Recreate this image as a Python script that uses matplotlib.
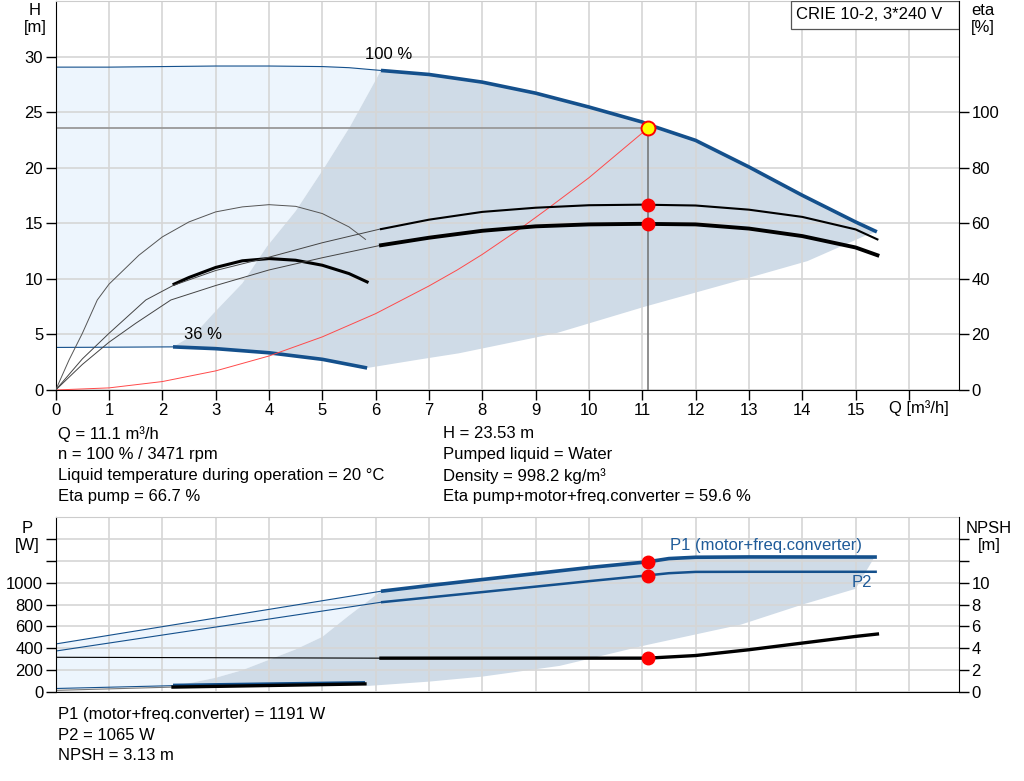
import matplotlib.pyplot as plt
from matplotlib.patches import Rectangle

plt.rcParams['font.family'] = ['Liberation Sans', 'DejaVu Sans']

# curvas de altura H [m] (100 % e 36 % de rotação)
q_h100_fino = [0, 1, 2, 3, 4, 5, 5.5, 6.1]
h_h100_fino = [29.05, 29.05, 29.1, 29.15, 29.15, 29.1, 29.0, 28.75]
q_h100 = [6.1, 7, 8, 9, 10, 11, 11.1, 12, 13, 14, 15, 15.4]
h_h100 = [28.75, 28.39, 27.7, 26.71, 25.46, 24.11, 23.9, 22.46, 20.07, 17.52, 15.12, 14.23]
q_h36_fino = [0, 1, 2.2]
h_h36_fino = [3.83, 3.85, 3.88]
q_h36 = [2.2, 3, 4, 5, 5.84]
h_h36 = [3.88, 3.72, 3.35, 2.76, 1.98]

# limites da área de operação (H)
q_lim_esq = [2.2, 2.6, 2.96, 3.5, 3.96, 4.5, 5.05, 5.52, 6.1]
h_lim_esq = [3.88, 5.0, 6.9, 9.6, 12.9, 16.1, 20.1, 23.7, 28.75]
q_lim_inf = [5.84, 6.84, 7.56, 9.38, 11.05, 13.0, 14.1, 15.19, 15.4]
h_lim_inf = [1.98, 2.76, 3.3, 5.1, 7.5, 10.1, 11.6, 13.9, 14.23]

# curva do sistema
q_sist = [0, 1, 2, 3, 4, 5, 6, 7, 7.53, 8, 8.75, 9.25, 10, 11.1]
h_sist = [0, 0.19, 0.76, 1.72, 3.06, 4.78, 6.87, 9.36, 10.8, 12.2, 14.65, 16.4, 19.1, 23.53]

# rendimentos [%]
q_eta_bomba_fino = [0, 0.5, 1, 1.69, 2.2, 3, 4, 5, 6.1]
eta_bomba_fino = [0, 11.2, 20.4, 32.4, 37.6, 43.0, 47.8, 53.0, 58.0]
q_eta_total_fino = [0, 0.5, 1, 1.5, 2.16, 3, 4, 5, 6.1]
eta_total_fino = [0, 9.2, 17.2, 24.0, 32.4, 37.6, 43.2, 47.6, 52.1]
q_eta = [6.1, 7, 8, 9, 10, 11, 12, 13, 14, 15, 15.41]
eta_bomba = [57.9, 61.3, 64.1, 65.6, 66.5, 66.7, 66.4, 64.9, 62.3, 57.8, 54.2]
eta_total = [52.1, 54.8, 57.3, 58.9, 59.6, 59.8, 59.6, 58.1, 55.4, 51.3, 48.5]
q_eta36 = [0, 0.25, 0.5, 0.78, 1.0, 1.56, 2.0, 2.5, 3.0, 3.5, 4.0, 4.5, 5.0, 5.5, 5.81]
eta_bomba36 = [0, 10.8, 20.4, 32.4, 38.1, 48.5, 55.1, 60.5, 64.1, 65.9, 66.7, 66.1, 63.5, 58.7, 54.2]
q_eta36_tot = [2.22, 2.5, 3.0, 3.5, 4.0, 4.5, 5.0, 5.5, 5.84]
eta_total36 = [38.1, 40.5, 44.1, 46.5, 47.3, 46.7, 44.9, 41.9, 38.9]

# potências [W]
q_p_fino = [0, 6.1]
p1_fino = [440, 923]
p2_fino = [375, 822]
q_p1 = [6.1, 7, 8, 9, 10, 11.1, 11.5, 12, 13, 15.4]
p1 = [923, 975, 1030, 1085, 1140, 1192, 1222, 1234, 1237, 1236]
q_p2 = [6.1, 7, 8, 9, 10, 11.1, 11.5, 12, 13, 15.4]
p2 = [822, 866, 915, 965, 1015, 1068, 1088, 1100, 1101, 1101]
q_p36_fino = [0, 2.2]
p1_36_fino = [32, 58]
p2_36_fino = [15, 45]
q_p36 = [2.2, 5.8]
p1_36 = [60, 84]
p2_36 = [45, 74]
q_plim_esq = [2.2, 2.6, 3, 3.5, 4, 4.5, 5, 5.5, 6.1]
p_lim_esq = [55, 90, 130, 200, 295, 390, 505, 700, 923]
q_plim_inf = [5.84, 7, 8, 9.45, 11.1, 12.85, 14, 15, 15.35]
p_lim_inf = [55, 95, 141, 239, 432, 617, 800, 945, 1230]

# NPSH [m]
q_npsh_fino = [0, 6.1]
npsh_fino = [3.18, 3.1]
q_npsh = [6.1, 11.1, 12, 13, 14, 15, 15.41]
npsh = [3.1, 3.1, 3.34, 3.87, 4.48, 5.09, 5.31]

# ponto de operação
q_op = 11.1
h_op = 23.53
eta_bomba_op = 66.7
eta_total_op = 59.6
p1_op = 1191
p2_op = 1065
npsh_op = 3.13

azul = '#14508c'
claro = '#edf5fd'
escuro = '#cfdbe7'
grade = '#d6d6d6'
fs = 12

fig = plt.figure(figsize=(10.24, 7.81), dpi=100)
L, W = 55.7 / 1024, (959 - 55.7) / 1024
ax1 = fig.add_axes([L, (781 - 390) / 781, W, 389 / 781])
ax2 = fig.add_axes([L, (781 - 692) / 781, W, (692 - 517.3) / 781])

# ---------------- grafico de cima (H / eta)
ax1.fill(q_h100_fino + q_lim_esq[::-1] + q_h36_fino[::-1],
         h_h100_fino + h_lim_esq[::-1] + h_h36_fino[::-1],
         color=claro, lw=0, zorder=0.2)
ax1.fill(q_h100 + q_lim_inf[::-1] + q_h36[::-1] + q_lim_esq,
         h_h100 + h_lim_inf[::-1] + h_h36[::-1] + h_lim_esq,
         color=escuro, lw=0, zorder=0.3)

ax1.plot(q_h100_fino, h_h100_fino, color=azul, lw=0.8)
ax1.plot(q_h100, h_h100, color=azul, lw=2.6, solid_capstyle='butt')
ax1.plot(q_h36_fino, h_h36_fino, color=azul, lw=0.8)
ax1.plot(q_h36, h_h36, color=azul, lw=2.6, solid_capstyle='butt')
ax1.plot(q_sist, h_sist, color='#ff4a4a', lw=0.7, zorder=3)

ax1.plot([0, q_op], [h_op, h_op], color='#999999', lw=1.3, zorder=2.5)
ax1.plot([q_op, q_op], [0, h_op], color='#707070', lw=1.1, zorder=2.5)

ax1.text(6.25, 30.15, '100 %', fontsize=fs, ha='center', va='center')
ax1.text(2.77, 4.95, '36 %', fontsize=fs, ha='center', va='center')

ax1.set_xlim(0, 16.94)
ax1.set_ylim(0, 35)
ax1.set_xticks(range(0, 17))
ax1.set_xticklabels([str(i) for i in range(16)] + [''])
ax1.set_yticks(range(0, 31, 5))
ax1.set_axisbelow(True)
ax1.grid(color=grade, lw=1.2)
ax1.tick_params(direction='out', length=7, width=1, labelsize=fs, pad=2)
ax1.spines['top'].set_color('#cccccc')
ax1.spines['right'].set_visible(False)
ax1.text(16.19, -1.6, 'Q [m³/h]', fontsize=fs, ha='center', va='center')

# caixa com o modelo
ax1.add_patch(Rectangle((0.8137, 0.9274), 0.1863, 0.0726, transform=ax1.transAxes,
                        fc='white', ec='#555555', lw=0.9, zorder=5))
ax1.text(0.8196, 0.966, 'CRIE 10-2, 3*240 V', transform=ax1.transAxes,
         fontsize=fs, ha='left', va='center', zorder=6)

ax1e = ax1.twinx()
ax1e.set_ylim(0, 140)
ax1e.plot(q_eta36, eta_bomba36, color='#555555', lw=0.7)
ax1e.plot(q_eta36_tot, eta_total36, color='black', lw=2.2)
ax1e.plot(q_eta_bomba_fino, eta_bomba_fino, color='#444444', lw=0.7)
ax1e.plot(q_eta_total_fino, eta_total_fino, color='#444444', lw=0.7)
ax1e.plot(q_eta, eta_bomba, color='black', lw=1.5)
ax1e.plot(q_eta, eta_total, color='black', lw=2.8)
ax1e.plot([q_op, q_op], [eta_bomba_op, eta_total_op], 'o', color='red', ms=9, zorder=5)
ax1e.plot([q_op], [h_op * 4], 'o', mfc='yellow', mec='red', mew=1.4, ms=10, zorder=6)
ax1e.set_yticks(range(0, 101, 20))
ax1e.tick_params(direction='out', length=7, width=1, labelsize=fs, pad=2)
for s in ['top', 'left', 'bottom']:
    ax1e.spines[s].set_visible(False)

fig.text(35 / 1024, 1 - 19 / 781, 'H\n[m]', fontsize=fs, ha='center', va='center', linespacing=1.2)
fig.text(983 / 1024, 1 - 19 / 781, 'eta\n[%]', fontsize=fs, ha='center', va='center', linespacing=1.2)

# textos do ponto de operação
esq = ['Q = 11.1 m³/h', 'n = 100 % / 3471 rpm',
       'Liquid temperature during operation = 20 °C', 'Eta pump = 66.7 %']
dir_ = ['H = 23.53 m', 'Pumped liquid = Water', 'Density = 998.2 kg/m³',
        'Eta pump+motor+freq.converter = 59.6 %']
for i, (a, b) in enumerate(zip(esq, dir_)):
    y = 1 - (434 + 21 * i) / 781
    fig.text(58 / 1024, y, a, fontsize=fs, va='center')
    fig.text(443 / 1024, y, b, fontsize=fs, va='center')

# ---------------- grafico de baixo (P / NPSH)
ax2.fill(q_p_fino + q_plim_esq[::-1] + q_p36_fino[::-1],
         p1_fino + p_lim_esq[::-1] + [p1_36_fino[1], 30],
         color=claro, lw=0, zorder=0.2)
ax2.fill(q_p1 + q_plim_inf[::-1] + q_p36[::-1] + q_plim_esq,
         p1 + p_lim_inf[::-1] + p1_36[::-1] + p_lim_esq,
         color=escuro, lw=0, zorder=0.3)

ax2.plot(q_p_fino, p1_fino, color=azul, lw=0.8)
ax2.plot(q_p_fino, p2_fino, color=azul, lw=0.8)
ax2.plot(q_p1, p1, color=azul, lw=2.6, solid_capstyle='butt')
ax2.plot(q_p2, p2, color=azul, lw=1.8, solid_capstyle='butt')
ax2.plot(q_p36_fino, p1_36_fino, color=azul, lw=0.8)
ax2.plot(q_p36_fino, p2_36_fino, color='#777777', lw=0.8)
ax2.plot(q_p36, p1_36, color=azul, lw=2.6, solid_capstyle='butt')
ax2.plot([q_op, q_op], [p1_op, p2_op], 'o', color='red', ms=9, zorder=5)

ax2.text(13.32, 1344, 'P1 (motor+freq.converter)', color='#1f5b99', fontsize=fs,
         ha='center', va='center')
ax2.text(15.12, 1003, 'P2', color='#1f5b99', fontsize=fs, ha='center', va='center')

ax2.set_xlim(0, 16.94)
ax2.set_ylim(0, 1600)
ax2.set_xticks(range(0, 17))
ax2.set_xticklabels([])
ax2.set_yticks(range(0, 1401, 200))
ax2.set_yticklabels([str(v) if v <= 1000 else '' for v in range(0, 1401, 200)])
ax2.set_axisbelow(True)
ax2.grid(color=grade, lw=1.2)
ax2.tick_params(axis='y', direction='out', length=7, width=1, labelsize=fs, pad=2)
ax2.tick_params(axis='x', length=0)
ax2.spines['top'].set_color('#cccccc')
ax2.spines['right'].set_visible(False)

ax2n = ax2.twinx()
ax2n.set_ylim(0, 16)
ax2n.plot(q_npsh_fino, npsh_fino, color='black', lw=0.8)
ax2n.plot(q_npsh, npsh, color='black', lw=2.4)
ax2n.plot(q_p36, [p / 100 for p in p2_36], color='black', lw=2.4)
ax2n.plot([q_op], [npsh_op], 'o', color='red', ms=9, zorder=5)
ax2n.set_yticks(range(0, 15, 2))
ax2n.set_yticklabels([str(v) if v <= 10 else '' for v in range(0, 15, 2)])
ax2n.tick_params(direction='out', length=7, width=1, labelsize=fs, pad=2)
for s in ['top', 'left', 'bottom']:
    ax2n.spines[s].set_visible(False)

fig.text(27 / 1024, 1 - 537 / 781, 'P\n[W]', fontsize=fs, ha='center', va='center', linespacing=1.2)
fig.text(989 / 1024, 1 - 537 / 781, 'NPSH\n[m]', fontsize=fs, ha='center', va='center', linespacing=1.2)

baixo = ['P1 (motor+freq.converter) = 1191 W', 'P2 = 1065 W', 'NPSH = 3.13 m']
for i, t in enumerate(baixo):
    fig.text(58 / 1024, 1 - (714 + 21 * i) / 781, t, fontsize=fs, va='center')

fig.savefig('out.png', dpi=100)
